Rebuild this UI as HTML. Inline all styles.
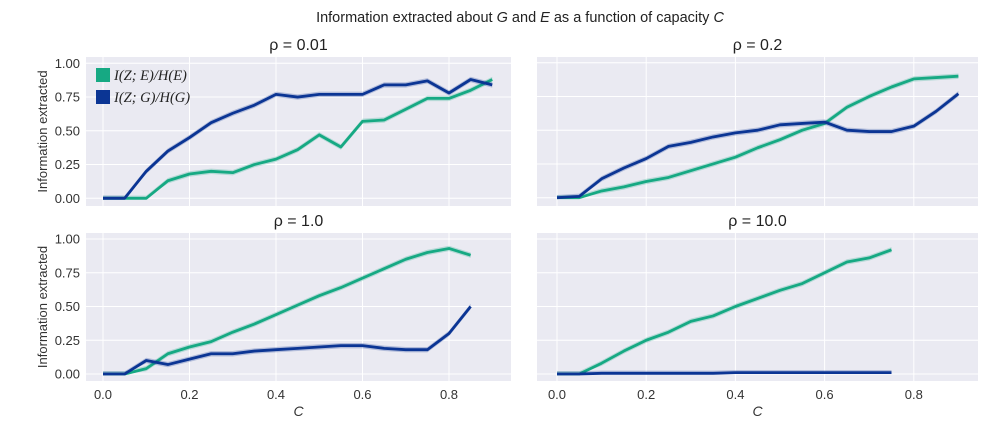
<!DOCTYPE html>
<html><head><meta charset="utf-8"><style>
html,body{margin:0;padding:0;background:#fff}
svg{display:block;font-family:"Liberation Sans",sans-serif}
</style></head><body>
<svg id="c" width="1000" height="429" viewBox="0 0 1000 429">
<text x="520" y="22" text-anchor="middle" font-size="14.5" fill="#222">Information extracted about <tspan font-style="italic">G</tspan> and <tspan font-style="italic">E</tspan> as a function of capacity <tspan font-style="italic">C</tspan></text>
</svg>
<script>
const xsA = [0,0.05,0.1,0.15,0.2,0.25,0.3,0.35,0.4,0.45,0.5,0.55,0.6,0.65,0.7,0.75,0.8,0.85,0.9];
const p1E = [0,0,0,0.13,0.18,0.2,0.19,0.25,0.29,0.36,0.47,0.38,0.57,0.58,0.66,0.74,0.74,0.8,0.88];
const p1G = [0,0,0.2,0.35,0.45,0.56,0.63,0.69,0.77,0.75,0.77,0.77,0.77,0.84,0.84,0.87,0.78,0.88,0.84];
const p2E = [0,0,0.05,0.08,0.12,0.15,0.2,0.25,0.3,0.37,0.43,0.5,0.55,0.67,0.75,0.82,0.88,0.89,0.9];
const p2G = [0,0.01,0.14,0.22,0.29,0.38,0.41,0.45,0.48,0.5,0.54,0.55,0.56,0.5,0.49,0.49,0.53,0.64,0.77];
const xsB = [0,0.05,0.1,0.15,0.2,0.25,0.3,0.35,0.4,0.45,0.5,0.55,0.6,0.65,0.7,0.75,0.8,0.85];
const p3E = [0,0,0.04,0.15,0.2,0.24,0.31,0.37,0.44,0.51,0.58,0.64,0.71,0.78,0.85,0.9,0.93,0.88];
const p3G = [0,0,0.1,0.07,0.11,0.15,0.15,0.17,0.18,0.19,0.2,0.21,0.21,0.19,0.18,0.18,0.3,0.5];
const xsC = [0,0.05,0.1,0.15,0.2,0.25,0.3,0.35,0.4,0.45,0.5,0.55,0.6,0.65,0.7,0.75];
const p4E = [0,0,0.08,0.17,0.25,0.31,0.39,0.43,0.5,0.56,0.62,0.67,0.75,0.83,0.86,0.92];
const p4G = [0,0,0.005,0.005,0.005,0.005,0.005,0.005,0.01,0.01,0.01,0.01,0.01,0.01,0.01,0.01];
const yTicks = ["0.00","0.25","0.50","0.75","1.00"];
const xTicks = ["0.0","0.2","0.4","0.6","0.8"];
const titles = ["ρ = 0.01","ρ = 0.2","ρ = 1.0","ρ = 10.0"];

const NS="http://www.w3.org/2000/svg", svg=document.getElementById('c');
function mk(t,a,p){const e=document.createElementNS(NS,t);for(const k in a)e.setAttribute(k,a[k]);(p||svg).appendChild(e);return e;}
const GREEN="#16a983", BLUE="#0b3594";
const panels=[
 {x0:86,x1:511,y0:57,y1:206,zx:103,zy:198.3,kx:432.5,ky:135,xs:xsA,E:p1E,G:p1G,left:true,bottom:false},
 {x0:537,x1:978,y0:57,y1:206,zx:557,zy:197.7,kx:446,ky:135,xs:xsA,E:p2E,G:p2G,left:false,bottom:false},
 {x0:86,x1:511,y0:233,y1:381,zx:103,zy:374,kx:432.5,ky:135,xs:xsB,E:p3E,G:p3G,left:true,bottom:true},
 {x0:537,x1:978,y0:233,y1:381,zx:557,zy:374,kx:446,ky:135,xs:xsC,E:p4E,G:p4G,left:false,bottom:true}
];
panels.forEach((p,i)=>{
 const g=mk('g',{});
 
 
 const X=v=>p.zx+v*p.kx, Y=v=>p.zy-v*p.ky;
 mk('rect',{x:p.x0,y:p.y0,width:p.x1-p.x0,height:p.y1-p.y0,fill:"#eaeaf2"},g);
 yTicks.forEach(t=>{const y=Y(+t);mk('line',{x1:p.x0,x2:p.x1,y1:y,y2:y,stroke:"#fff","stroke-width":1},g);
  if(p.left){const tx=mk('text',{x:p.x0-6,y:y+4.5,"text-anchor":"end","font-size":13,fill:"#333"},g);tx.textContent=t;
   }});
 xTicks.forEach(t=>{const x=X(+t);mk('line',{x1:x,x2:x,y1:p.y0,y2:p.y1,stroke:"#fff","stroke-width":1},g);
  if(p.bottom){const tx=mk('text',{x:x,y:p.y1+18,"text-anchor":"middle","font-size":13,fill:"#333"},g);tx.textContent=t;
   }});
 const tt=mk('text',{x:(p.x0+p.x1)/2,y:p.y0-7,"text-anchor":"middle","font-size":16,fill:"#222"},g);tt.textContent=titles[i];
 
 [[p.E,GREEN,'e'],[p.G,BLUE,'g']].forEach(([d,c,n])=>{
  const up=p.xs.map((x,j)=>X(x)+','+Y(d[j]+0.02)).join(' ');
  const dn=p.xs.map((x,j)=>X(x)+','+Y(Math.max(0,d[j]-0.02))).reverse().join(' ');
  const b=mk('polygon',{points:up+' '+dn,fill:c,opacity:0.25},g);
  
  const l=mk('polyline',{points:p.xs.map((x,j)=>X(x)+','+Y(d[j])).join(' '),fill:"none",stroke:c,"stroke-width":2.8,"stroke-linejoin":"round"},g);
  
 });
 if(p.left){const yl=mk('text',{transform:`translate(47,${(p.y0+p.y1)/2}) rotate(-90)`,"text-anchor":"middle","font-size":13,fill:"#333"},g);
  yl.textContent="Information extracted";}
 if(p.bottom){const xl=mk('text',{x:(p.x0+p.x1)/2,y:p.y1+35,"text-anchor":"middle","font-size":14,"font-style":"italic",fill:"#333"},g);
  xl.textContent="C";}
});
const lg=mk('g',{});


[[GREEN,"I(Z; E)/H(E)",76],[BLUE,"I(Z; G)/H(G)",98]].forEach(([c,t,y])=>{
 mk('rect',{x:96,y:y-8,width:14,height:14,fill:c},lg);
 const tx=mk('text',{x:114,y:y+4,"font-size":14.5,"font-family":"Liberation Serif,serif","font-style":"italic",fill:"#222"},lg);tx.textContent=t;
 
});
</script>
</body></html>
